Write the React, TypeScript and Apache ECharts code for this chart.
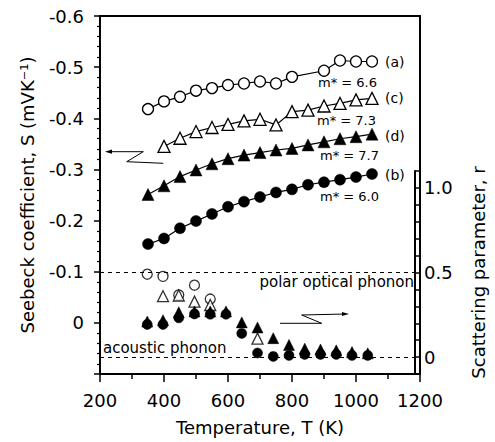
import React, { useEffect, useRef } from "react";
import * as echarts from "echarts";

// Seebeck coefficient S (mV/K) vs T (K)
const T_a = [350, 400, 450, 500, 550, 600, 650, 700, 750, 800, 900, 950, 1000, 1050];
const S_a = [-0.418, -0.433, -0.442, -0.454, -0.459, -0.465, -0.468, -0.472, -0.468, -0.481, -0.493, -0.513, -0.511, -0.511];
const T_c = [400, 450, 500, 550, 600, 650, 700, 750, 800, 850, 900, 950, 1000, 1050];
const S_c = [-0.345, -0.361, -0.374, -0.382, -0.388, -0.395, -0.398, -0.387, -0.413, -0.416, -0.424, -0.429, -0.436, -0.439];
const T_full = [350, 400, 450, 500, 550, 600, 650, 700, 750, 800, 850, 900, 950, 1000, 1050];
const S_d = [-0.251, -0.268, -0.286, -0.299, -0.311, -0.321, -0.328, -0.333, -0.338, -0.341, -0.348, -0.354, -0.36, -0.364, -0.369];
const S_b = [-0.154, -0.165, -0.185, -0.199, -0.213, -0.227, -0.237, -0.246, -0.255, -0.261, -0.27, -0.275, -0.28, -0.285, -0.291];

// Scattering parameter r vs T
const T_rOpenCircle = [350, 400, 450, 500, 550];
const r_openCircle = [0.49, 0.477, 0.367, 0.425, 0.343];
const T_rOpenTri = [400, 450, 500, 550, 700];
const r_openTri = [0.36, 0.364, 0.328, 0.308, 0.109];
const r_filledTri = [0.21, 0.218, 0.265, 0.27, 0.27, 0.27, 0.205, 0.175, 0.112, 0.072, 0.05, 0.045, 0.04, 0.03, 0.022];
const r_filledCircle = [0.193, 0.193, 0.232, 0.255, 0.253, 0.253, 0.14, 0.024, 0.004, 0.01, 0.016, 0.016, 0.016, 0.01, 0.01];

const seriesLabels = ["(a)", "(c)", "(d)", "(b)"];
const massLabels = ["m* = 6.6", "m* = 7.3", "m* = 7.7", "m* = 6.0"];

const FONT = "DejaVu Sans";

function zip(xs: number[], ys: number[]) {
  return xs.map((x, i) => [x, ys[i]]);
}

export default function App() {
  const ref = useRef<HTMLDivElement>(null);
  useEffect(() => {
    const chart = echarts.init(ref.current!, null, { renderer: "svg" });
    const openStyle = { color: "#fff", borderColor: "#000", borderWidth: 1.3 };
    const fillStyle = { color: "#000", borderColor: "#000", borderWidth: 0.5, opacity: 1 };
    const lineStyle = { color: "#000", width: 1.2 };
    const textStyle = (size: number) => ({ fill: "#000", fontFamily: FONT, fontSize: size });
    const lbl = (t: string, x: number, y: number, size: number, align = "left") => ({
      type: "text",
      x,
      y,
      style: { ...textStyle(size), text: t, textAlign: align, textVerticalAlign: "middle" },
    });
    const thin = { stroke: "#000", lineWidth: 1, fill: "none" };
    chart.setOption({
      animation: false,
      backgroundColor: "#fff",
      grid: [
        { left: 100, top: 16, width: 320, height: 358, show: true, borderColor: "#000", borderWidth: 2, backgroundColor: "transparent" },
        { left: 100, top: 171, width: 320, height: 203, show: false },
      ],
      xAxis: [
        {
          gridIndex: 0,
          type: "value",
          min: 200,
          max: 1200,
          interval: 200,
          name: "Temperature, T (K)",
          nameLocation: "middle",
          nameGap: 44,
          nameTextStyle: { fontFamily: FONT, fontSize: 18, color: "#000" },
          axisLine: { show: true, onZero: false, lineStyle: { color: "#000", width: 2 } },
          axisTick: { show: true, inside: false, length: 8, lineStyle: { color: "#000", width: 1.5 } },
          minorTick: { show: true, splitNumber: 2, length: 5, lineStyle: { color: "#000", width: 1.5 } },
          axisLabel: { fontFamily: FONT, fontSize: 18, color: "#000", margin: 17, formatter: (v: number) => String(v) },
          splitLine: { show: false },
        },
        { gridIndex: 1, type: "value", min: 200, max: 1200, show: false, axisLine: { onZero: false } },
      ],
      yAxis: [
        {
          gridIndex: 0,
          type: "value",
          position: "left",
          inverse: true,
          min: -0.6,
          max: 0.1,
          interval: 0.1,
          name: "Seebeck coefficient, S (mVK\u207B\u00B9)",
          nameLocation: "middle",
          nameGap: 64,
          nameTextStyle: { fontFamily: FONT, fontSize: 18, color: "#000" },
          axisLine: { show: true, onZero: false, lineStyle: { color: "#000", width: 2 } },
          axisTick: { show: true, inside: false, length: 6, lineStyle: { color: "#000", width: 1.5 } },
          minorTick: { show: true, splitNumber: 5, length: 3, lineStyle: { color: "#000", width: 1.2 } },
          axisLabel: {
            fontFamily: FONT,
            fontSize: 18,
            color: "#000",
            margin: 16,
            formatter: (v: number) => {
              const r = Math.round(v * 10) / 10;
              if (r > 0.05) return "";
              if (r === 0) return "0";
              return r.toFixed(1);
            },
          },
          splitLine: { show: false },
        },
        {
          gridIndex: 1,
          type: "value",
          position: "right",
          min: -0.1,
          max: 1.1,
          interval: 0.1,
          name: "Scattering parameter, r",
          nameLocation: "middle",
          nameGap: 54,
          nameTextStyle: { fontFamily: FONT, fontSize: 18, color: "#000" },
          axisLine: { show: true, onZero: false, lineStyle: { color: "#000", width: 2 } },
          axisTick: { show: true, inside: false, length: 5, lineStyle: { color: "#000", width: 1.5 } },
          axisLabel: {
            fontFamily: FONT,
            fontSize: 18,
            color: "#000",
            margin: 9,
            formatter: (v: number) => {
              const r = Math.round(v * 10) / 10;
              if (r === 0) return "0";
              if (r === 0.5) return "0.5";
              if (r === 1) return "1.0";
              return "";
            },
          },
          splitLine: { show: false },
        },
      ],
      series: [
        {
          type: "scatter",
          xAxisIndex: 1,
          yAxisIndex: 1,
          symbol: "circle",
          symbolSize: 10,
          itemStyle: openStyle,
          data: zip(T_rOpenCircle, r_openCircle),
          markLine: {
            silent: true,
            symbol: "none",
            label: { show: false },
            lineStyle: { color: "#000", width: 1, type: [4, 4] },
            data: [{ yAxis: 0.5 }, { yAxis: 0 }],
          },
        },
        {
          type: "scatter",
          xAxisIndex: 1,
          yAxisIndex: 1,
          symbol: "triangle",
          symbolSize: 11,
          itemStyle: openStyle,
          data: zip(T_rOpenTri, r_openTri),
        },
        {
          type: "scatter",
          xAxisIndex: 1,
          yAxisIndex: 1,
          symbol: "triangle",
          symbolSize: 11,
          itemStyle: fillStyle,
          data: zip(T_full, r_filledTri),
        },
        {
          type: "scatter",
          xAxisIndex: 1,
          yAxisIndex: 1,
          symbol: "circle",
          symbolSize: 10,
          itemStyle: fillStyle,
          data: zip(T_full, r_filledCircle),
        },
        {
          type: "line",
          xAxisIndex: 0,
          yAxisIndex: 0,
          symbol: "circle",
          symbolSize: 11,
          showAllSymbol: true,
          itemStyle: openStyle,
          lineStyle,
          data: zip(T_a, S_a),
        },
        {
          type: "line",
          xAxisIndex: 0,
          yAxisIndex: 0,
          symbol: "triangle",
          symbolSize: 12,
          showAllSymbol: true,
          itemStyle: openStyle,
          lineStyle,
          data: zip(T_c, S_c),
        },
        {
          type: "line",
          xAxisIndex: 0,
          yAxisIndex: 0,
          symbol: "triangle",
          symbolSize: 12,
          showAllSymbol: true,
          itemStyle: fillStyle,
          lineStyle,
          data: zip(T_full, S_d),
        },
        {
          type: "line",
          xAxisIndex: 0,
          yAxisIndex: 0,
          symbol: "circle",
          symbolSize: 11,
          showAllSymbol: true,
          itemStyle: fillStyle,
          lineStyle,
          data: zip(T_full, S_b),
        },
      ],
      graphic: [
        lbl(seriesLabels[0], 385, 62, 14),
        lbl(seriesLabels[1], 385, 98, 14),
        lbl(seriesLabels[2], 385, 136, 14),
        lbl(seriesLabels[3], 385, 175, 14),
        lbl(massLabels[0], 318, 82, 13),
        lbl(massLabels[1], 317, 120, 13),
        lbl(massLabels[2], 320, 155, 13),
        lbl(massLabels[3], 320, 196, 13),
        lbl("polar optical phonon", 414, 282, 15, "right"),
        lbl("acoustic phonon", 103, 348, 15),
        { type: "polyline", shape: { points: [[108, 151.7], [143.3, 151.7], [126.7, 161.7], [163.3, 163.3]] }, style: thin },
        { type: "polygon", shape: { points: [[105, 151.7], [112, 149.6], [112, 153.8]] }, style: { fill: "#000" } },
        { type: "polyline", shape: { points: [[280, 323.3], [321.7, 323.3], [301.7, 315], [345, 314]] }, style: thin },
        { type: "polygon", shape: { points: [[349, 314], [342, 311.9], [342, 316.1]] }, style: { fill: "#000" } },
      ],
    });
    return () => chart.dispose();
  }, []);
  return (
    <div
      ref={ref}
      style={{ position: "fixed", left: 0, top: 0, width: 495, height: 442, background: "#fff" }}
    />
  );
}
